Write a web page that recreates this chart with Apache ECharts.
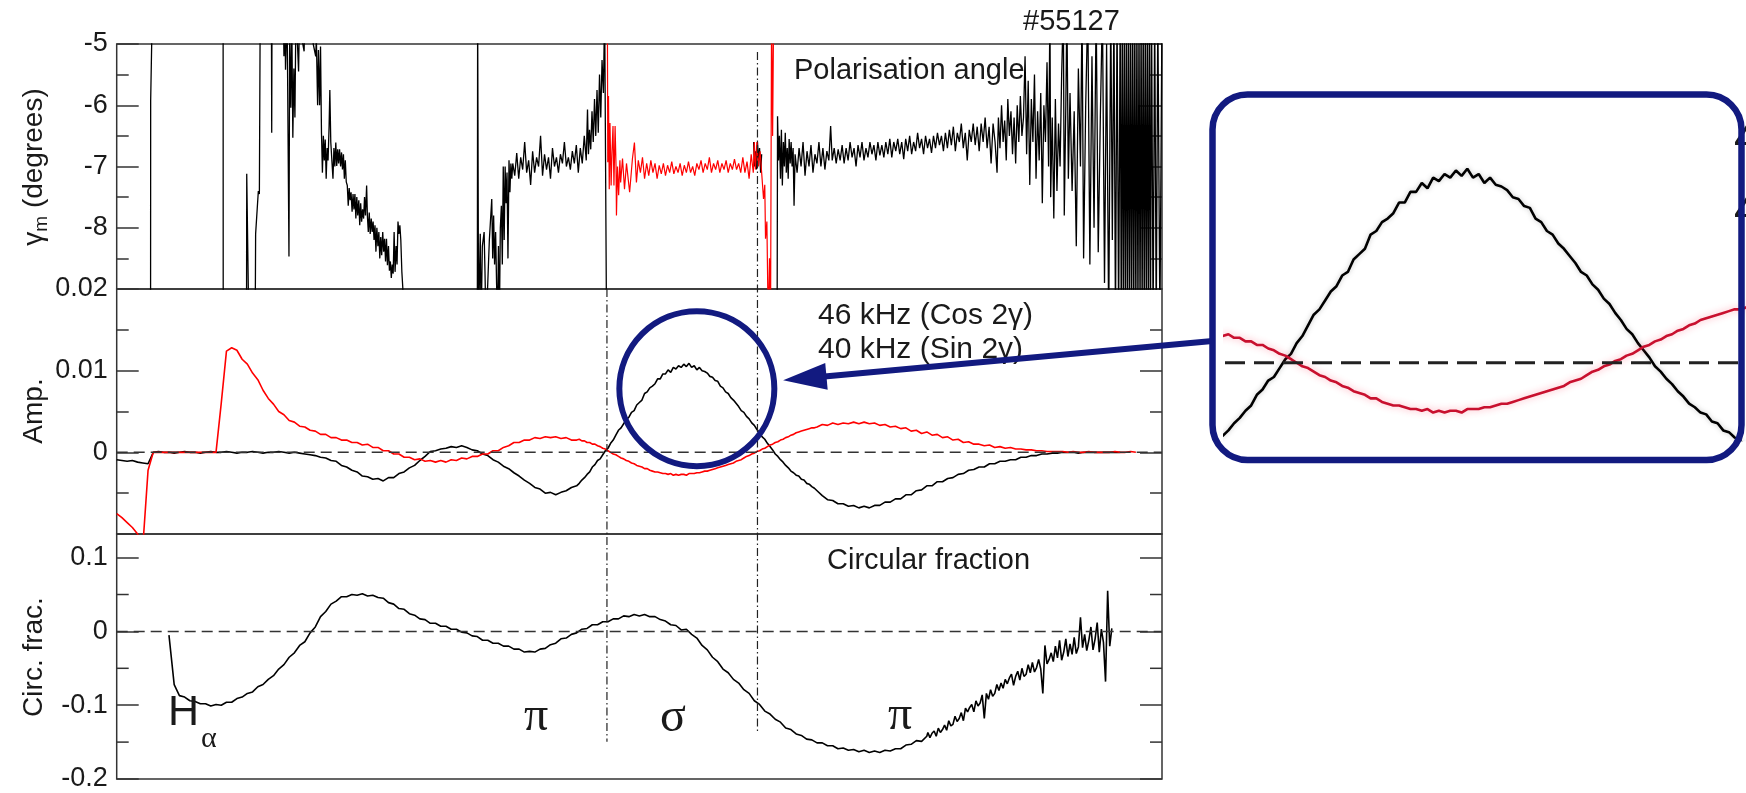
<!DOCTYPE html>
<html>
<head>
<meta charset="utf-8">
<script src="https://cdn.jsdelivr.net/npm/echarts@6/dist/echarts.min.js"></script>
<style>
  html, body { margin: 0; padding: 0; background: #fff; }
  #chart { width: 1746px; height: 793px; }
</style>
</head>
<body>
<div id="chart"></div>
<script>
// ---- shot #55127 : time axis in arbitrary units (0 .. 1000) ----

// Polarisation angle γm (degrees); values beyond the panel range are clipped
const gammaBlack = [
  [0,-9.6],[32.4,-9.6],[32.5,-5.92],[34,-5.95],[34.1,-4.4],[101.8,-4.4],[101.9,-9.6],
  [124.2,-9.6],[124.4,-7.12],[125.5,-7.15],[126.4,-9.6],[132.5,-9.6],[132.9,-8.1],[134,-8.1],[135.5,-7.4],[136.5,-7.45],[137.3,-4.4],
  [148,-4.4],[148.3,-6.45],[148.6,-4.4],
  [159.3,-4.4],[160,-5.2],[161,-4.6],[161.5,-5.42],[163,-4.4],[164.8,-8.47],[165.5,-4.8],[166.6,-6.04],[167.5,-4.6],[168.5,-6.53],
  [169.5,-5.4],[170.5,-6.2],[171.5,-4.4],[174,-5.45],[175,-4.4],[177,-4.9],[179.3,-5.12],[180,-4.4],[185,-4.4],[188,-5.0],
  [190.4,-5.2],[191,-4.9],[192.2,-6.0],[193,-5.1],[194.1,-6.0],[195,-5.04],
  [195.9,-6.45],[196.8,-7.10],[197.7,-6.5],[198.6,-6.9],[199.5,-6.56],[200.4,-7.2],[201.3,-6.7],[202.2,-6.9],[203.2,-6.34],[203.9,-5.75],
  [204.8,-6.6],[205.9,-6.61],[206.9,-7.2],[207.8,-6.7],[208.7,-7.0],[209.6,-6.61],[210.5,-6.99],[211.4,-6.72],[212.3,-6.95],[213.2,-6.72],
  [214.2,-7.0],[215.1,-6.77],[216,-7.05],[216.9,-6.8],[217.8,-7.2],[218.7,-6.9],[219.6,-7.25],[220.6,-7.31],[221.5,-7.64],[222.4,-7.35],
  [223.3,-7.55],[224.2,-7.42],[225.2,-7.74],[226.1,-7.45],[227,-7.7],[227.9,-7.45],[228.8,-7.85],[229.7,-7.5],[230.6,-7.8],[231.6,-7.55],
  [232.5,-7.96],[233.4,-7.6],[234.3,-7.9],[235.2,-7.7],[236.2,-7.85],[237.1,-7.5],[238,-7.8],[239.1,-7.31],[239.8,-7.8],[240.7,-8.07],
  [241.6,-7.75],[242.5,-8.1],[243.5,-7.85],[244.4,-8.07],[245.3,-7.9],[246.2,-8.2],[247.1,-7.96],[248,-8.39],[248.9,-8.0],[249.9,-8.3],
  [250.8,-8.07],[251.7,-8.5],[252.6,-8.15],[253.5,-8.45],[254.5,-8.07],[255.4,-8.39],[256.3,-8.18],[257.2,-8.55],[258.1,-8.18],[259,-8.61],
  [260,-8.3],[260.9,-8.7],[261.8,-8.55],[262.7,-8.82],[263.6,-8.6],[264.5,-8.75],[265.4,-8.07],[266.3,-8.72],[267.3,-8.3],[268.2,-8.6],
  [269.1,-7.9],[270,-8.1],[270.9,-7.96],[271.8,-8.2],[272.8,-8.72],[273.7,-8.98],[274.6,-9.6],
  [345,-9.6],[345.3,-4.4],[345.8,-4.4],[346.2,-9.6],[347.8,-8.1],[348.6,-9.6],[349.8,-8.3],[351.5,-8.07],[352.3,-8.7],[353.3,-9.6],
  [355,-8.9],[356.5,-8.2],[358.8,-7.53],[359.7,-8.5],[360.6,-7.8],[361.5,-8.6],[362.5,-8.07],[363.4,-8.9],[364.3,-9.6],[365.2,-8.3],
  [366.1,-9.6],[367,-8.0],[368,-7.64],[368.9,-8.6],[369.8,-7.0],[370.7,-8.2],[371.6,-7.0],[372.5,-7.6],[373.4,-7.1],[374.3,-8.5],
  [375.3,-6.9],[376.2,-7.42],[377.1,-6.95],[378,-7.2],[378.9,-6.95],
  [380.8,-7.15],[382.7,-6.78],[384.6,-7.2],[386.5,-6.85],[388.4,-7.05],[390.3,-6.6],[392.2,-7.1],[394.1,-6.9],[396,-7.3],[397.9,-6.75],
  [399.8,-7.1],[401.7,-6.85],[403.6,-7.0],[405.5,-6.5],[407.4,-7.15],[409.3,-6.8],[411.2,-7.05],[413.1,-6.85],[415,-7.2],[416.9,-6.7],
  [418.8,-7.0],[420.7,-6.85],[422.6,-7.1],[424.5,-6.8],[426.4,-6.95],[428.3,-6.6],[430.2,-7.0],[432.1,-6.85],[434,-7.05],[435.9,-6.75],
  [437.8,-6.95],[439.7,-6.65],[441.6,-7.1],[443.5,-6.7],[445.4,-6.95],[447.3,-6.5],[449.2,-6.9],[450.4,-6.07],[451.3,-6.8],[452.3,-6.4],
  [453.5,-6.72],[454.7,-6.1],[455.9,-6.6],[457.1,-5.9],[458.3,-6.5],[459.5,-5.75],[460.7,-6.45],[461.9,-5.5],[463.1,-6.2],[464.3,-5.26],
  [465.6,-5.8],[466.8,-4.4],[468.2,-4.4],[468.6,-9.6],[469,null],
  [609.3,-6.6],[610.2,-7.0],[611.1,-6.75],[612,-7.05],[613,-6.6],[614,-6.9],[615,-6.7],[616,-7.1],[617,-6.8],[617.5,null],
  [631.8,-9.6],[632.2,-6.18],[633.1,-6.9],[634,-6.5],[635,-7.2],[635.9,-6.4],[636.8,-7.31],[637.8,-6.6],[638.7,-7.0],[639.6,-6.45],
  [640.6,-7.1],[641.5,-6.7],[642.4,-7.2],[643.3,-6.55],[644.3,-6.95],[645.2,-6.6],[646.1,-7.0],[647.1,-6.7],[648,-7.64],[649,-6.8],
  [650.9,-7.1],[652.8,-6.7],[654.7,-7.0],[656.6,-6.6],[658.5,-7.15],[660.4,-6.75],[662.3,-7.0],[664.2,-6.65],[666.1,-7.1],[668,-6.8],
  [669.9,-6.95],[671.8,-6.6],[673.7,-7.0],[675.6,-6.7],[677.5,-7.05],[679.4,-6.75],[681.3,-6.9],[683,-6.34],[684.5,-6.9],[686.4,-6.7],
  [688.3,-6.95],[690.2,-6.72],[692.1,-6.9],[694,-6.65],[695.9,-6.95],[697.8,-6.7],[699.7,-6.9],[701.6,-6.6],[703.5,-6.85],[705.4,-6.7],
  [707.3,-7.0],[709.2,-6.65],[711.1,-6.85],[713,-6.6],[714.9,-6.9],[716.8,-6.7],[718.7,-6.85],[720.6,-6.6],[722.5,-6.8],[724.4,-6.65],
  [726.3,-6.9],[728.2,-6.6],[730.1,-6.82],[732,-6.65],[733.9,-6.85],[735.8,-6.6],
  [737.7,-6.8],[739.6,-6.55],[741.5,-6.85],[743.4,-6.6],[745.3,-6.75],[747.2,-6.55],[749.1,-6.8],[751,-6.6],[752.9,-6.88],[754.8,-6.55],
  [756.7,-6.75],[758.6,-6.5],[760.5,-6.8],[762.4,-6.6],[764.3,-6.75],[766.2,-6.45],[768.1,-6.7],[770,-6.55],[771.9,-6.8],[773.8,-6.5],
  [775.7,-6.7],[777.6,-6.55],[779.5,-6.78],[781.4,-6.5],[783.3,-6.7],[785.2,-6.45],[787.1,-6.65],[789,-6.5],[790.9,-6.75],[792.8,-6.45],
  [794.7,-6.7],[796.6,-6.4],[798.5,-6.65],[800.4,-6.35],[802.3,-6.75],[804.2,-6.45],[806.1,-6.6],[808,-6.3],[809.9,-6.7],[811.8,-6.45],
  [813.7,-6.9],[815.6,-6.4],[817.5,-6.6],[819.4,-6.3],[821.3,-6.65],[823.2,-6.35],[825.1,-6.75],[827,-6.3],[828.9,-6.6],[830.8,-6.2],
  [832.7,-6.7],[834.6,-6.35],[836.5,-6.95],[838.4,-6.3],[840.3,-6.6],[842.2,-7.1],
  [843.5,-6.2],[845,-6.7],[846.5,-6.0],[848,-6.6],[849.5,-6.25],[851,-6.9],[852.5,-5.9],[854,-6.5],[855.5,-6.1],[857,-6.8],
  [858.5,-6.2],[860,-6.95],[861.5,-6.0],[863,-6.6],[864.5,-5.85],[866,-6.5],[867.5,-6.2],
  [869,-5.2],[870.5,-6.8],[872,-5.6],[873.5,-7.3],[875,-5.9],[876.5,-6.6],[878,-5.5],[879.5,-7.2],[881,-6.1],[882.5,-6.9],
  [884,-5.8],[885.5,-7.6],[887,-6.0],[888.5,-6.6],[890,-5.3],[891.5,-7.0],
  [892.8,-4.4],[893.5,-7.5],[895,-6.2],[896.5,-7.85],[898,-5.9],[899.5,-7.4],[901,-6.3],[902.5,-7.0],[904,-5.5],[905.6,-4.4],
  [906.5,-7.8],[908,-6.0],[909,-4.4],[910.4,-7.2],
  [912,-5.8],[914,-7.4],[916,-6.1],[918,-8.3],[920,-5.4],[922,-7.0],[923.5,-4.4],[925,-8.5],[927,-6.0],[929,-4.4],
  [931,-8.6],[933,-5.2],[935,-8.0],[937,-4.4],[939,-8.4],[941,-6.2],[943,-4.4],[945,-8.9],[947,-5.0],[949,-9.6],
  [951,-4.4],[952.5,-8.2],[954,-4.4],[955.5,-9.6],[957,-4.4],[958.5,-9.6],[960,-4.4],
  [961,-9.6],[962,-4.4],[963,-9.6],[964,-4.4],[965,-9.6],[966,-4.4],[967,-9.6],[968,-4.4],[969,-9.6],[970,-4.4],
  [971,-9.6],[972,-4.4],[973,-9.6],[974,-4.4],[975,-9.6],[976,-4.4],[977,-9.6],[978,-4.4],[979,-9.6],[980,-4.4],
  [981,-9.6],[982,-4.4],[983,-9.6],[984,-4.4],[985,-9.6],[986,-4.4],[987,-9.6],[988,-4.4],[989,-9.6],[990,-4.4],
  [991.5,-9.6],[993,-4.4],[994.5,-9.6],[996,-4.4],[998,-9.6],[1000,-4.4]
];

// γm over the σ window (red trace)
const gammaRed = [
  [469.4,-4.4],[469.8,-6.93],[470.5,-5.85],[471.2,-7.37],[471.9,-6.29],[473,-7.31],[473.8,-6.77],[474.8,-6.34],[475.7,-7.31],[476.8,-6.34],
  [477.7,-7.0],[478.1,-7.8],[479.1,-7.0],[480.2,-7.47],[481.4,-6.9],[482.1,-7.26],[483.9,-6.87],[485.8,-7.37],[487.7,-6.95],[490.7,-7.42],
  [493.4,-6.87],[495.3,-6.61],[497.2,-7.26],[499,-6.9],[501,-7.1],[503,-6.85],[505,-7.2],[507,-6.95],[509,-7.15],[511,-6.9],
  [513,-7.1],[515,-6.95],[517,-7.2],[519,-6.98],[521,-7.12],[523,-6.95],[525,-7.15],[527,-6.98],[529,-7.1],[531,-6.92],
  [533,-7.12],[535,-7.0],[537,-7.1],[539,-6.95],[541,-7.15],[543,-6.98],[545,-7.1],[547,-6.92],[549,-7.1],[551,-7.0],
  [553,-7.15],[555,-6.95],[557,-7.05],[559,-6.9],[561,-7.1],[563,-6.95],[565,-7.05],[567,-6.85],[569,-7.1],[571,-6.95],
  [573,-7.05],[575,-6.9],[577,-7.1],[579,-6.95],[581,-7.05],[583,-6.9],[585,-7.1],[587,-6.95],[589,-7.05],[591,-6.88],
  [593,-7.05],[595,-6.95],[597,-7.1],[599,-6.85],[601,-7.1],[603,-6.92],[605,-7.2],[607,-6.8],[609,-7.1],[610,-6.6],
  [611,-7.05],[612.5,-6.6],[614,-7.0],[615.5,-6.75],[617,-7.1],[618.8,-7.53],[620,-7.3],[620.7,-8.18],[622,-7.9],[623.3,-9.6],
  [624.5,-8.5],[625.5,-9.6],[626.5,-4.4],[627.5,-6.5],[628.5,-4.4],[629.4,-4.4]
];

// Amplitudes of the two modulation harmonics, sampled every ampStep units from ampStart
const ampStart = 0;
const ampStep = 5;
const amp46 = [ // 46 kHz (Cos 2γ)
  -0.0009,-0.0010,-0.0011,-0.0010,-0.0012,-0.0013,-0.0014,0.0000,0.0001,0.0000,
  0.0000,-0.0001,0.0000,0.0001,0.0000,0.0000,-0.0001,0.0000,0.0001,0.0000,
  0.0000,0.0001,0.0000,-0.0001,0.0000,0.0000,0.0001,0.0000,-0.0001,0.0000,
  0.0000,0.0001,0.0000,-0.0001,0.0000,-0.0001,-0.0002,-0.0003,-0.0004,-0.0006,
  -0.0007,-0.0010,-0.0011,-0.0016,-0.0018,-0.0022,-0.0024,-0.0029,-0.0030,-0.0033,
  -0.0032,-0.0035,-0.0031,-0.0031,-0.0026,-0.0024,-0.0019,-0.0016,-0.0010,-0.0005,
  0.0001,0.0002,0.0004,0.0005,0.0007,0.0006,0.0008,0.0006,0.0003,0.0002,
  -0.0002,-0.0004,-0.0009,-0.0012,-0.0017,-0.0020,-0.0025,-0.0029,-0.0034,-0.0038,
  -0.0043,-0.0045,-0.0050,-0.0049,-0.0052,-0.0049,-0.0047,-0.0043,-0.0036,-0.0032,
  -0.0025,-0.0019,-0.0013,-0.0005,0.0003,0.0013,0.0025,0.0036,0.0048,0.0058,
  0.0065,0.0075,0.0080,0.0088,0.0092,0.0099,0.0100,0.0105,0.0104,0.0109,
  0.0106,0.0105,0.0100,0.0098,0.0091,0.0086,0.0077,0.0073,0.0065,0.0059,
  0.0050,0.0045,0.0036,0.0029,0.0016,0.0007,-0.0004,-0.0012,-0.0021,-0.0025,
  -0.0032,-0.0035,-0.0042,-0.0045,-0.0051,-0.0053,-0.0058,-0.0059,-0.0063,-0.0063,
  -0.0066,-0.0065,-0.0068,-0.0066,-0.0068,-0.0065,-0.0065,-0.0061,-0.0061,-0.0057,
  -0.0057,-0.0052,-0.0052,-0.0047,-0.0046,-0.0041,-0.0041,-0.0036,-0.0036,-0.0032,
  -0.0031,-0.0027,-0.0026,-0.0022,-0.0021,-0.0018,-0.0018,-0.0014,-0.0014,-0.0011,
  -0.0011,-0.0009,-0.0009,-0.0006,-0.0006,-0.0004,-0.0004,-0.0002,-0.0002,-0.0001,
  -0.0001,0.0000,0.0000,0.0000,-0.0001,0.0000,0.0000,0.0000,0.0000,0.0000,
  0.0000,0.0000,0.0000
];
const amp40 = [ // 40 kHz (Sin 2γ)
  -0.0075,-0.0080,-0.0086,-0.0092,-0.0100,-0.0115,-0.0022,0.0000,0.0000,0.0000,
  0.0000,0.0000,0.0000,0.0000,0.0000,0.0000,0.0000,0.0000,0.0000,0.0000,
  0.0060,0.0124,0.0128,0.0125,0.0114,0.0108,0.0097,0.0089,0.0076,0.0066,
  0.0059,0.0050,0.0046,0.0039,0.0037,0.0032,0.0031,0.0027,0.0026,0.0022,
  0.0022,0.0018,0.0018,0.0015,0.0015,0.0012,0.0012,0.0009,0.0010,0.0006,
  0.0006,0.0002,0.0002,-0.0002,-0.0002,-0.0006,-0.0006,-0.0009,-0.0008,-0.0011,
  -0.0010,-0.0012,-0.0010,-0.0012,-0.0009,-0.0010,-0.0007,-0.0008,-0.0005,-0.0005,
  -0.0002,-0.0002,0.0002,0.0002,0.0006,0.0008,0.0012,0.0012,0.0015,0.0015,
  0.0018,0.0017,0.0019,0.0018,0.0019,0.0017,0.0018,0.0015,0.0016,0.0013,
  0.0013,0.0009,0.0009,0.0004,0.0003,-0.0002,-0.0004,-0.0009,-0.0010,-0.0015,
  -0.0016,-0.0021,-0.0021,-0.0025,-0.0024,-0.0027,-0.0026,-0.0028,-0.0026,-0.0028,
  -0.0025,-0.0026,-0.0023,-0.0023,-0.0020,-0.0018,-0.0016,-0.0014,-0.0012,-0.0009,
  -0.0008,-0.0003,-0.0002,0.0003,0.0004,0.0010,0.0011,0.0016,0.0017,0.0022,
  0.0023,0.0027,0.0027,0.0031,0.0030,0.0034,0.0033,0.0036,0.0034,0.0036,
  0.0035,0.0037,0.0035,0.0037,0.0035,0.0036,0.0033,0.0034,0.0031,0.0032,
  0.0029,0.0030,0.0026,0.0027,0.0023,0.0025,0.0021,0.0022,0.0018,0.0019,
  0.0015,0.0016,0.0012,0.0013,0.0010,0.0010,0.0008,0.0009,0.0006,0.0007,
  0.0005,0.0006,0.0004,0.0004,0.0003,0.0003,0.0002,0.0002,0.0001,0.0001,
  0.0001,0.0001,0.0000,0.0001,0.0000,0.0000,0.0001,0.0000,0.0000,0.0000,
  0.0000,0.0001,0.0000,0.0000,0.0001,0.0000
];

// Finer sampling of both amplitudes through the σ window (every fineStep from fineStart)
const fineStart = 440;
const fineStep = 2.5;
const amp46Fine = [
  -0.0041,-0.0038,-0.0034,-0.0031,-0.0027,-0.0024,-0.0018,-0.0015,-0.0010,-0.0008,
  -0.0003,0.0002,0.0005,0.0011,0.0015,0.0021,0.0027,0.0030,0.0035,0.0040,
  0.0043,0.0049,0.0051,0.0058,0.0061,0.0064,0.0072,0.0074,0.0079,0.0081,
  0.0084,0.0090,0.0090,0.0096,0.0096,0.0101,0.0098,0.0104,0.0102,0.0106,
  0.0104,0.0108,0.0105,0.0109,0.0104,0.0106,0.0101,0.0104,0.0100,0.0099,
  0.0097,0.0093,0.0092,0.0088,0.0087,0.0081,0.0079,0.0074,0.0072,0.0067,
  0.0064,0.0060,0.0056,0.0051,0.0049,0.0044,0.0041,0.0036,0.0033,0.0028,
  0.0024,0.0019,0.0016,0.0011,0.0007,0.0003,-0.0002,-0.0005,-0.0009,-0.0012,
  -0.0016,-0.0019,-0.0023,-0.0025,-0.0028,-0.0029,-0.0033,-0.0034,-0.0038,-0.0039,
  -0.0042,-0.0044,-0.0047
];
const amp40Fine = [
  0.0015,0.0016,0.0014,0.0014,0.0012,0.0012,0.0010,0.0010,0.0008,0.0007,
  0.0005,0.0004,0.0002,0.0000,-0.0002,-0.0003,-0.0005,-0.0007,-0.0008,-0.0010,
  -0.0011,-0.0013,-0.0014,-0.0016,-0.0017,-0.0018,-0.0020,-0.0020,-0.0022,-0.0023,
  -0.0024,-0.0024,-0.0025,-0.0026,-0.0026,-0.0027,-0.0026,-0.0028,-0.0027,-0.0028,
  -0.0027,-0.0027,-0.0028,-0.0026,-0.0026,-0.0026,-0.0025,-0.0025,-0.0024,-0.0023,
  -0.0023,-0.0022,-0.0021,-0.0020,-0.0019,-0.0018,-0.0017,-0.0016,-0.0015,-0.0014,
  -0.0013,-0.0011,-0.0010,-0.0009,-0.0007,-0.0005,-0.0004,-0.0002,-0.0001,0.0001,
  0.0002,0.0004,0.0005,0.0007,0.0009,0.0010,0.0012,0.0013,0.0015,0.0016,
  0.0018,0.0019,0.0021,0.0022,0.0024,0.0025,0.0026,0.0027,0.0028,0.0029,
  0.0030,0.0030,0.0031
];

// Circular fraction: main part every 5 units from 50, noisy tail every 2 units from 776
const circStart = 50;
const circStep = 5;
const circ = [
  -0.005,-0.072,-0.087,-0.089,-0.094,-0.095,-0.098,-0.098,-0.101,-0.099,
  -0.100,-0.096,-0.096,-0.091,-0.089,-0.084,-0.082,-0.075,-0.072,-0.065,
  -0.060,-0.051,-0.045,-0.035,-0.029,-0.019,-0.014,-0.002,0.006,0.020,
  0.027,0.037,0.041,0.047,0.047,0.050,0.049,0.051,0.048,0.049,
  0.046,0.045,0.039,0.037,0.031,0.030,0.024,0.022,0.017,0.016,
  0.011,0.011,0.007,0.007,0.003,0.003,-0.001,-0.002,-0.006,-0.007,
  -0.012,-0.012,-0.016,-0.016,-0.020,-0.020,-0.024,-0.024,-0.028,-0.027,
  -0.028,-0.024,-0.023,-0.018,-0.016,-0.010,-0.009,-0.004,-0.002,0.003,
  0.004,0.009,0.009,0.013,0.013,0.017,0.017,0.021,0.020,0.023,
  0.021,0.023,0.020,0.020,0.016,0.014,0.009,0.008,0.002,0.003,
  -0.004,-0.009,-0.019,-0.025,-0.035,-0.041,-0.051,-0.056,-0.065,-0.070,
  -0.079,-0.084,-0.094,-0.099,-0.108,-0.112,-0.119,-0.123,-0.131,-0.133,
  -0.139,-0.141,-0.146,-0.147,-0.151,-0.151,-0.155,-0.155,-0.159,-0.158,
  -0.161,-0.160,-0.163,-0.161,-0.164,-0.162,-0.164,-0.161,-0.162,-0.159,
  -0.159,-0.154,-0.153,-0.148,-0.149,-0.142
];
const circTailStart = 776;
const circTailStep = 2;
const circTail = [
  -0.137,-0.144,-0.138,-0.135,-0.142,-0.131,-0.137,-0.133,-0.127,-0.134,
  -0.121,-0.128,-0.126,-0.115,-0.122,-0.118,-0.110,-0.121,-0.104,-0.109,
  -0.103,-0.099,-0.109,-0.094,-0.101,-0.097,-0.086,-0.118,-0.084,-0.092,
  -0.079,-0.088,-0.084,-0.072,-0.080,-0.070,-0.077,-0.065,-0.071,-0.063,
  -0.058,-0.073,-0.061,-0.054,-0.066,-0.050,-0.061,-0.058,-0.045,-0.056,
  -0.042,-0.055,-0.049,-0.038,-0.051,-0.084,-0.019,-0.044,-0.038,-0.029,
  -0.041,-0.020,-0.036,-0.012,-0.039,-0.028,-0.010,-0.034,-0.017,-0.031,
  -0.008,-0.030,-0.021,0.019,-0.022,-0.004,-0.026,-0.012,0.006,-0.025,
  -0.010,0.012,-0.028,0.003,-0.015,-0.068,0.055,-0.020,0.004
];

// Panel ranges and ticks
const gammaRange = [-9, -5];  const gammaTick = 1;
const ampRange = [-0.01, 0.02]; const ampTick = 0.01;
const circRange = [-0.2, 0.132]; const circTick = 0.1;
const circMinorTicks = [-0.15, -0.05, 0.05];

// σ window boundaries (time units)
const dividerX = [469, 613];

// Zoomed view around the σ peak
const zoomX = [441, 670];
const zoomY = [-0.00434, 0.01476];

const series = (start, step, vals) => vals.map((v, i) => [start + i * step, v]);
const withFine = (coarse, fine) => {
  const hi = fine[fine.length - 1][0];
  return coarse.filter(p => p[0] < fineStart || p[0] > hi).concat(fine).sort((a, b) => a[0] - b[0]);
};

const FONT = '"Liberation Sans", Arial, Helvetica, sans-serif';
const SERIF = '"Liberation Serif", "Times New Roman", serif';
const TXT = '#1a1a1a';
const AX = '#333';
const NAVY = '#121a80';

const PLOT_L = 116.7, PLOT_W = 1045.3, PANEL_H = 245;
const grids = [
  { left: PLOT_L, top: 44, width: PLOT_W, height: PANEL_H },
  { left: PLOT_L, top: 289, width: PLOT_W, height: PANEL_H },
  { left: PLOT_L, top: 534, width: PLOT_W, height: PANEL_H }
].map(g => Object.assign(g, { show: true, borderColor: AX, borderWidth: 1.5, backgroundColor: 'transparent' }));
grids.push({ left: 1225, top: 100, width: 521, height: 340, show: false });

function yPair(gridIndex, range, interval, opts) {
  const common = {
    type: 'value', gridIndex, min: range[0], max: range[1], interval,
    axisLine: { show: false }, splitLine: { show: false },
    axisTick: { show: true, inside: true, length: 22, lineStyle: { color: AX, width: 1.5 } },
    minorTick: { show: opts.minor, splitNumber: 2, length: 12, lineStyle: { color: AX, width: 1.5 } }
  };
  return [
    Object.assign({}, common, {
      position: 'left',
      axisLabel: Object.assign({ show: true, margin: 9, fontSize: 27, fontFamily: FONT, color: TXT }, opts.label)
    }),
    Object.assign({}, common, { position: 'right', axisLabel: { show: false } })
  ];
}

const yAxes = [
  ...yPair(0, gammaRange, gammaTick, { minor: true, label: { showMinLabel: false, showMaxLabel: true } }),
  ...yPair(1, ampRange, ampTick, { minor: true, label: { showMinLabel: false, showMaxLabel: true } }),
  ...yPair(2, circRange, circTick, { minor: false, label: { showMinLabel: true, showMaxLabel: false } }),
  { type: 'value', gridIndex: 3, min: zoomY[0], max: zoomY[1], show: false }
];

const xAxes = [0, 1, 2].map(i => ({ type: 'value', gridIndex: i, min: 0, max: 1000, show: false }))
  .concat([{ type: 'value', gridIndex: 3, min: zoomX[0], max: zoomX[1], show: false }]);

const lineBase = { type: 'line', showSymbol: false, symbol: 'none', animation: false, clip: true, silent: true };
const amp46Data = withFine(series(ampStart, ampStep, amp46), series(fineStart, fineStep, amp46Fine));
const amp40Data = withFine(series(ampStart, ampStep, amp40), series(fineStart, fineStep, amp40Fine));
const circData = series(circStart, circStep, circ).concat(series(circTailStart, circTailStep, circTail));

const option = {
  animation: false,
  backgroundColor: '#fff',
  grid: grids,
  xAxis: xAxes,
  yAxis: yAxes,
  series: [
    Object.assign({}, lineBase, { xAxisIndex: 0, yAxisIndex: 0, data: gammaBlack, connectNulls: false, lineStyle: { color: '#000', width: 1.3 } }),
    Object.assign({}, lineBase, { xAxisIndex: 0, yAxisIndex: 0, data: gammaRed, lineStyle: { color: '#ff0000', width: 1.2 } }),
    Object.assign({}, lineBase, { xAxisIndex: 1, yAxisIndex: 2, data: amp46Data, lineStyle: { color: '#000', width: 1.6 } }),
    Object.assign({}, lineBase, { xAxisIndex: 1, yAxisIndex: 2, data: amp40Data, lineStyle: { color: '#ff0000', width: 1.6 } }),
    Object.assign({}, lineBase, { xAxisIndex: 1, yAxisIndex: 2, z: 4, data: [[0, 0], [1000, 0]], lineStyle: { color: AX, width: 1.5, type: [11, 6] } }),
    Object.assign({}, lineBase, { xAxisIndex: 2, yAxisIndex: 4, data: circData, lineStyle: { color: '#000', width: 1.6 } }),
    Object.assign({}, lineBase, { xAxisIndex: 2, yAxisIndex: 4, z: 4, data: [[0, 0], [1000, 0]], lineStyle: { color: AX, width: 1.5, type: [11, 6] } }),
    Object.assign({}, lineBase, { xAxisIndex: 3, yAxisIndex: 6, data: amp46Data,
      lineStyle: { color: '#000', width: 2.6, shadowColor: 'rgba(90,90,90,0.35)', shadowBlur: 5 } }),
    Object.assign({}, lineBase, { xAxisIndex: 3, yAxisIndex: 6, data: amp40Data,
      lineStyle: { color: '#c8102e', width: 2.6, shadowColor: 'rgba(255,60,90,0.45)', shadowBlur: 7 } }),
    Object.assign({}, lineBase, { xAxisIndex: 3, yAxisIndex: 6, z: 4, data: [[zoomX[0], 0], [zoomX[1], 0]], lineStyle: { color: '#222', width: 3, type: [20, 9] } })
  ]
};

const chart = echarts.init(document.getElementById('chart'), null, { renderer: 'canvas' });
chart.setOption(option);

// ---- annotations ----
const toPx = (g, x, y) => chart.convertToPixel({ gridIndex: g }, [x, y]);
const gfx = [];
const text = (x, y, str, size, extra) => gfx.push(Object.assign({
  type: 'text', x, y, z: 120,
  style: Object.assign({ text: str, fontSize: size, fontFamily: FONT, fill: TXT, align: 'left', verticalAlign: 'middle' }, extra || {})
}));

// σ window boundaries (dash-dot)
const divTops = [toPx(1, dividerX[0], ampRange[1])[1], toPx(0, dividerX[1], -5.13)[1]];
const divBottoms = [toPx(2, dividerX[0], -0.1495)[1], toPx(2, dividerX[1], -0.137)[1]];
dividerX.forEach((x, i) => {
  const px = toPx(1, x, 0)[0];
  gfx.push({ type: 'line', z: 50, shape: { x1: px, y1: divTops[i], x2: px, y2: divBottoms[i] },
    style: { stroke: '#222', lineWidth: 1.2, lineDash: [8, 3, 1.5, 3] } });
});

// bottom panel minor ticks (both sides)
circMinorTicks.forEach(v => {
  const y = toPx(2, 0, v)[1];
  gfx.push({ type: 'line', z: 50, shape: { x1: PLOT_L, y1: y, x2: PLOT_L + 12, y2: y }, style: { stroke: AX, lineWidth: 1.5 } });
  gfx.push({ type: 'line', z: 50, shape: { x1: PLOT_L + PLOT_W - 12, y1: y, x2: PLOT_L + PLOT_W, y2: y }, style: { stroke: AX, lineWidth: 1.5 } });
});

// axis titles
gfx.push({
  type: 'text', x: 34, y: 167, rotation: Math.PI / 2, z: 120,
  style: {
    text: '{g|γ}{s|m}{t| (degrees)}', align: 'center', verticalAlign: 'middle', fill: TXT,
    rich: {
      g: { fontSize: 28, fontFamily: FONT, lineHeight: 28, verticalAlign: 'top', fill: TXT },
      s: { fontSize: 19, fontFamily: FONT, lineHeight: 19, verticalAlign: 'top', padding: [12, 0, 0, 0], fill: TXT },
      t: { fontSize: 28, fontFamily: FONT, lineHeight: 28, verticalAlign: 'top', fill: TXT }
    }
  }
});
gfx.push({ type: 'text', x: 34, y: 411, rotation: Math.PI / 2, z: 120,
  style: { text: 'Amp.', fontSize: 28, fontFamily: FONT, fill: TXT, align: 'center', verticalAlign: 'middle' } });
gfx.push({ type: 'text', x: 34, y: 657, rotation: Math.PI / 2, z: 120,
  style: { text: 'Circ. frac.', fontSize: 28, fontFamily: FONT, fill: TXT, align: 'center', verticalAlign: 'middle' } });

// panel labels
text(1023, 22, '#55127', 29);
text(794, 70.6, 'Polarisation angle', 29);
text(818, 316, '46 kHz (Cos 2γ)', 30);
text(818, 349.3, '40 kHz (Sin 2γ)', 30);
text(827, 560.6, 'Circular fraction', 29);

// spectral component labels
text(168, 713.5, 'H', 43);
text(201, 739, 'α', 30, { fontFamily: SERIF });
text(524, 717.3, 'π', 48, { fontFamily: SERIF });
text(660, 718.6, 'σ', 48, { fontFamily: SERIF });
text(888, 716.6, 'π', 48, { fontFamily: SERIF });

// legend text continuing into the zoomed view (cut by the page edge)
text(1734, 140, '46 kHz', 44);
text(1734, 212, '40 kHz', 44);

// circle around the σ peak and the arrow from the zoomed view
const c = toPx(1, 555, 0.0078);
gfx.push({ type: 'circle', z: 130, shape: { cx: c[0], cy: c[1], r: 77.5 }, style: { fill: 'none', stroke: NAVY, lineWidth: 6 } });
const tip = [c[0] + 86.3, c[1] - 8.3];
const tail = [1212.5, 341];
const dx = tip[0] - tail[0], dy = tip[1] - tail[1];
const len = Math.hypot(dx, dy), ux = dx / len, uy = dy / len;
const base = [tip[0] - 43.5 * ux, tip[1] - 43.5 * uy];
gfx.push({ type: 'line', z: 130, shape: { x1: tail[0], y1: tail[1], x2: base[0] + 2 * ux, y2: base[1] + 2 * uy },
  style: { stroke: NAVY, lineWidth: 6 } });
gfx.push({ type: 'polygon', z: 130, shape: { points: [tip, [base[0] - uy * 13.5, base[1] + ux * 13.5], [base[0] + uy * 13.5, base[1] - ux * 13.5]] },
  style: { fill: NAVY } });
gfx.push({ type: 'rect', z: 130, shape: { x: 1212.5, y: 94.5, width: 529, height: 365.5, r: 35 },
  style: { fill: 'none', stroke: NAVY, lineWidth: 6.5 } });

chart.setOption({ graphic: gfx });
</script>
</body>
</html>
